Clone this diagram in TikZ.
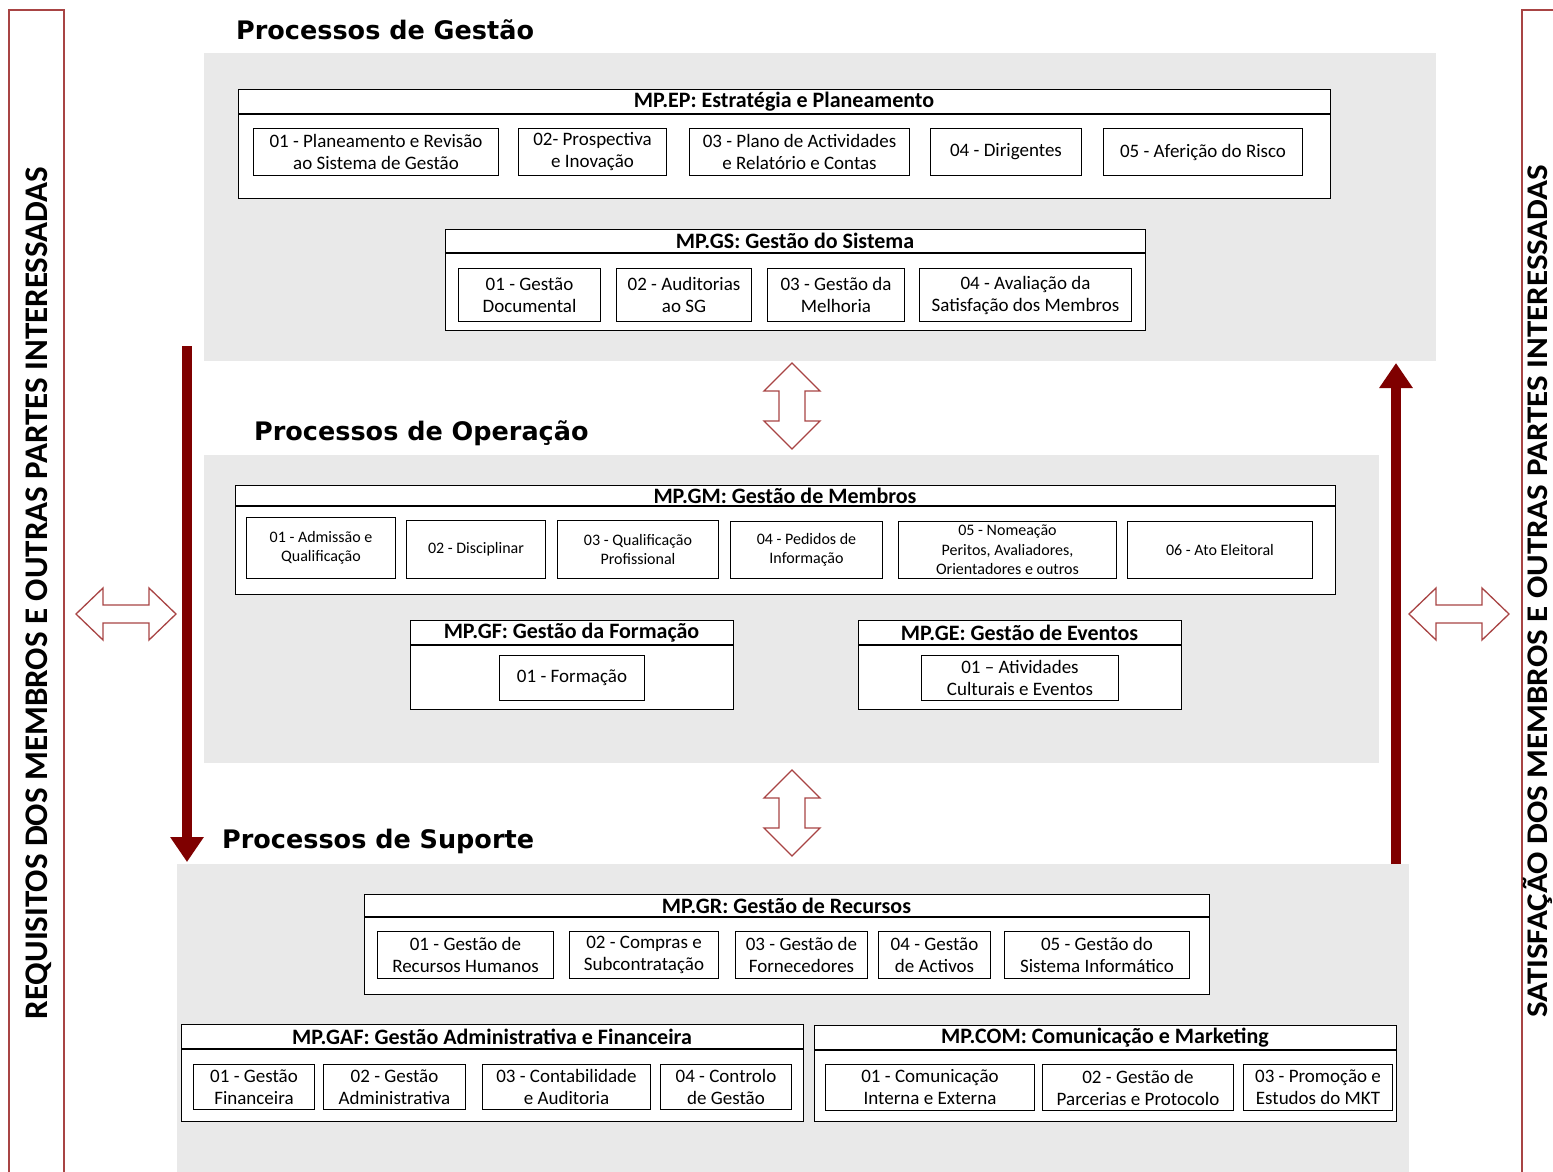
\documentclass[tikz,border=0pt]{standalone}
\usepackage{fontspec}
\setmainfont{Carlito}
\newfontfamily\hdfont{DejaVu Sans}
\usetikzlibrary{arrows.meta}
\definecolor{panelgray}{HTML}{E9E9E9}
\definecolor{darkmaroon}{HTML}{7F0000}
\definecolor{sidered}{HTML}{A84444}
\tikzset{
  panel/.style={fill=panelgray, draw=none, inner sep=0pt, outer sep=0pt},
  grp/.style={draw=black, fill=white, line width=1.1pt, inner sep=0pt},
  sub/.style={draw=black, fill=white, line width=1pt, align=center, inner sep=0pt, font=\fontsize{19}{22}\selectfont},
  gmsub/.style={sub, font=\fontsize{16}{19.5}\selectfont},
  grptitle/.style={font=\bfseries\fontsize{22}{24}\selectfont, inner sep=0pt},
  sectitle/.style={font=\hdfont\bfseries\fontsize{25.5}{28}\selectfont, anchor=west, inner sep=0pt},
  bigarrow/.style={draw=darkmaroon, line width=10pt, -{Triangle[width=32pt,length=25pt]}},
  hollow/.style={draw=sidered, fill=white, line width=1.3pt, line join=miter},
  sideframe/.style={draw=sidered, line width=1.3pt, fill=none},
  sidetext/.style={rotate=90, anchor=base, inner sep=0pt, font=\bfseries\fontsize{33}{36}\selectfont},
  sidetextr/.style={rotate=90, anchor=base, inner sep=0pt, font=\bfseries\fontsize{30}{33}\selectfont},
}
% sub box: [style]{name}{x1}{y1}{x2}{y2}{text}
\newcommand\subnode[7][sub]{%
  \pgfmathsetmacro\bw{#5-#3}\pgfmathsetmacro\bh{#6-#4}%
  \node[#1, anchor=north west, minimum width=\bw pt, minimum height=\bh pt] (#2) at (#3,#4) {#7};}
% group box: {name}{x1}{y1}{x2}{y2}{ysep}{title}
\newcommand\grpnode[7]{%
  \pgfmathsetmacro\bw{#4-#2}\pgfmathsetmacro\bh{#5-#3}%
  \pgfmathsetmacro\tx{(#2+#4)/2}\pgfmathsetmacro\ty{(#3+#6)/2}%
  \node[grp, anchor=north west, minimum width=\bw pt, minimum height=\bh pt] (#1) at (#2,#3) {};
  \coordinate (#1-sl) at (#2,#6); \coordinate (#1-sr) at (#4,#6);
  \draw[line width=1.1pt] (#1-sl) -- (#1-sr);
  \node[grptitle] (#1-t) at (\tx,\ty) {#7};}
% hollow double arrow: {cx}{cy}{rot}{halflen}{headlen}{headhw}{shafthw}
\newcommand\hollowdbl[7]{%
  \pgfmathsetmacro\ha{-#4}\pgfmathsetmacro\hb{-#4+#5}\pgfmathsetmacro\hc{#4-#5}%
  \pgfmathsetmacro\hH{#6}\pgfmathsetmacro\hs{#7}\pgfmathsetmacro\hL{#4}%
  \draw[hollow, shift={(#1,#2)}, rotate=#3] (\ha,0) -- (\hb,-\hH) -- (\hb,-\hs) -- (\hc,-\hs) -- (\hc,-\hH) -- (\hL,0) -- (\hc,\hH) -- (\hc,\hs) -- (\hb,\hs) -- (\hb,\hH) -- cycle;}
\begin{document}
\begin{tikzpicture}[x=1pt,y=-1pt]
\clip (0,0) rectangle (1553,1171);
\fill[white] (0,0) rectangle (1553,1171);
% side frames
\draw[sideframe] (9,10) rectangle (64,1190);
\draw[sideframe] (1522,10) rectangle (1600,1190);
\node[sidetext] (lefttext) at (47,593) {REQUISITOS DOS MEMBROS E OUTRAS PARTES INTERESSADAS};
\node[sidetextr] (righttext) at (1547,591) {\scalebox{1.1}[1]{SATISFAÇÃO DOS MEMBROS E OUTRAS PARTES INTERESSADAS}};
% panels
\node[panel, anchor=north west, minimum width=1232pt, minimum height=308pt] (p1) at (204,53) {};
\node[panel, anchor=north west, minimum width=1175pt, minimum height=308pt] (p2) at (204,455) {};
\node[panel, anchor=north west, minimum width=1232pt, minimum height=320pt] (p3) at (177,864) {};
% section titles
\node[sectitle] (h1) at (236,30) {Processos de Gestão};
\node[sectitle] (h2) at (254,433) {Processos de Operação};
\node[sectitle] (h3) at (222,841) {Processos de Suporte};
% ---------- Gestao
\grpnode{ep}{238}{89}{1330}{198}{114}{MP.EP: Estratégia e Planeamento}
\subnode{ep1}{253}{128}{498}{175}{01 - Planeamento e Revisão\\ao Sistema de Gestão}
\subnode{ep2}{518}{128}{666}{175}{02- Prospectiva\\e Inovação}
\subnode{ep3}{689}{128}{909}{175}{03 - Plano de Actividades\\e Relatório e Contas}
\subnode{ep4}{930}{128}{1081}{175}{04 - Dirigentes}
\subnode{ep5}{1103}{128}{1302}{175}{05 - Aferição do Risco}
\grpnode{gs}{445}{229}{1145}{330}{253}{MP.GS: Gestão do Sistema}
\subnode{gs1}{458}{268}{600}{321}{01 - Gestão\\Documental}
\subnode{gs2}{616}{268}{751}{321}{02 - Auditorias\\ao SG}
\subnode{gs3}{767}{268}{904}{321}{03 - Gestão da\\Melhoria}
\subnode{gs4}{919}{268}{1131}{321}{04 - Avaliação da\\Satisfação dos Membros}
% ---------- Operacao
\grpnode{gm}{235}{485}{1335}{594}{506}{MP.GM: Gestão de Membros}
\subnode[gmsub]{gm1}{246}{517}{395}{578}{01 - Admissão e\\Qualificação}
\subnode[gmsub]{gm2}{406}{520}{545}{578}{02 - Disciplinar}
\subnode[gmsub]{gm3}{557}{520}{718}{578}{03 - Qualificação\\Profissional}
\subnode[gmsub]{gm4}{730}{521}{882}{578}{04 - Pedidos de\\Informação}
\subnode[gmsub]{gm5}{898}{521}{1116}{578}{05 - Nomeação\\Peritos, Avaliadores,\\Orientadores e outros}
\subnode[gmsub]{gm6}{1127}{521}{1312}{578}{06 - Ato Eleitoral}
\grpnode{gf}{410}{620}{733}{709}{645}{MP.GF: Gestão da Formação}
\subnode{gf1}{499}{655}{644}{700}{01 - Formação}
\grpnode{ge}{858}{620}{1181}{709}{645}{MP.GE: Gestão de Eventos}
\subnode{ge1}{921}{655}{1118}{700}{01 – Atividades\\Culturais e Eventos}
% ---------- Suporte
\grpnode{gr}{364}{894}{1209}{994}{917}{MP.GR: Gestão de Recursos}
\subnode{gr1}{377}{931}{553}{978}{01 - Gestão de\\Recursos Humanos}
\subnode{gr2}{569}{931}{718}{978}{02 - Compras e\\Subcontratação}
\subnode{gr3}{735}{931}{867}{978}{03 - Gestão de\\Fornecedores}
\subnode{gr4}{878}{931}{990}{978}{04 - Gestão\\de Activos}
\subnode{gr5}{1004}{931}{1189}{978}{05 - Gestão do\\Sistema Informático}
\grpnode{gaf}{181}{1024}{803}{1121}{1049}{MP.GAF: Gestão Administrativa e Financeira}
\subnode{gaf1}{193}{1064}{314}{1109}{01 - Gestão\\Financeira}
\subnode{gaf2}{323}{1064}{465}{1109}{02 - Gestão\\Administrativa}
\subnode{gaf3}{482}{1064}{650}{1109}{03 - Contabilidade\\e Auditoria}
\subnode{gaf4}{660}{1064}{791}{1109}{04 - Controlo\\de Gestão}
\grpnode{com}{814}{1025}{1396}{1121}{1050}{MP.COM: Comunicação e Marketing}
\subnode{com1}{825}{1064}{1034}{1110}{01 - Comunicação\\Interna e Externa}
\subnode{com2}{1042}{1064}{1233}{1110}{02 - Gestão de\\Parcerias e Protocolo}
\subnode{com3}{1243}{1064}{1392}{1110}{03 - Promoção e\\Estudos do MKT}
% ---------- arrows
\coordinate (la1) at (187,346); \coordinate (la2) at (187,862);
\draw[bigarrow] (la1) -- (la2);
\coordinate (ra1) at (1396,864); \coordinate (ra2) at (1396,363);
\draw[bigarrow] (ra1) -- (ra2);
\hollowdbl{792}{406}{90}{43}{28}{28}{13}
\hollowdbl{792}{813}{90}{43}{28}{28}{13}
\hollowdbl{126}{614}{0}{50}{27}{26}{9}
\hollowdbl{1459}{614}{0}{50}{27}{26}{9}
\end{tikzpicture}
\end{document}
